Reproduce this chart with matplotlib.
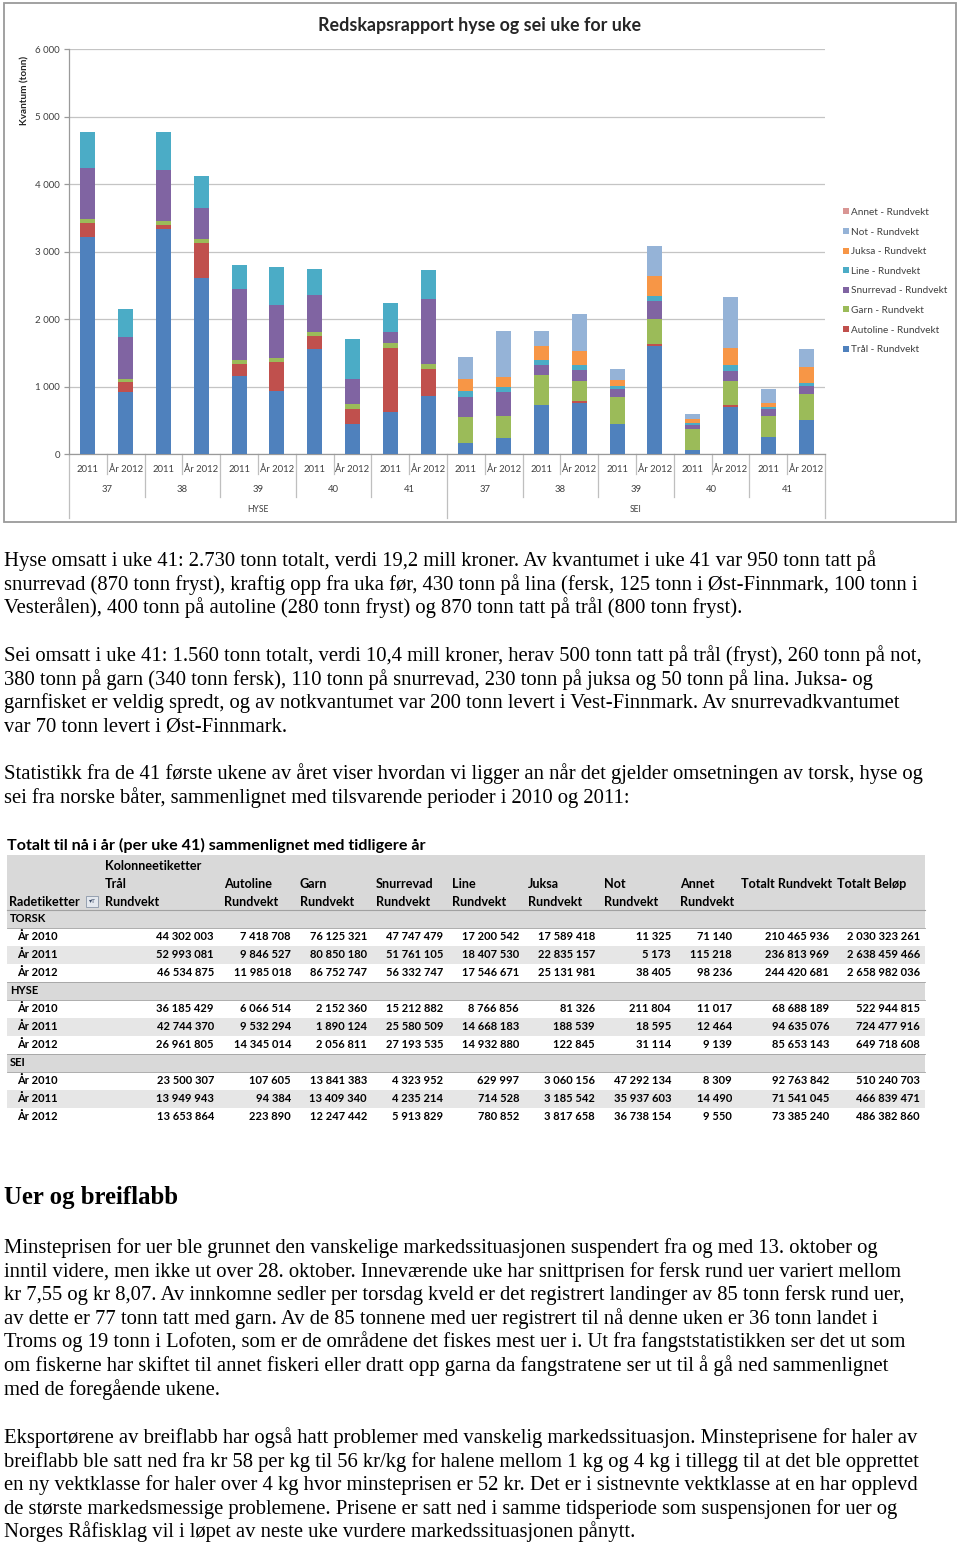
import matplotlib

matplotlib.use("Agg")
import matplotlib.pyplot as plt
import numpy as np
from matplotlib.patches import Rectangle

W, H = 960, 1543
CHART_FONT = ["Lato", "DejaVu Sans"]
BODY_FONT = ["Liberation Serif", "DejaVu Serif"]
GREY_TXT = "#404040"

# ---- chart data (tonn per uke) ----
species = ["HYSE", "SEI"]
weeks = ["37", "38", "39", "40", "41"]
years = ["2011", "År 2012"]

series_names = [
    "Trål - Rundvekt", "Autoline - Rundvekt", "Garn - Rundvekt",
    "Snurrevad - Rundvekt", "Line - Rundvekt", "Juksa - Rundvekt",
    "Not - Rundvekt", "Annet - Rundvekt",
]
series_colors = ["#4F81BD", "#C0504D", "#9BBB59", "#8064A2",
                 "#4BACC6", "#F79646", "#95B3D7", "#D99694"]

tral = [3215, 928, 3333, 2607, 1156, 943, 1560, 454, 622, 870,
        173, 248, 733, 757, 455, 1599, 69, 708, 262, 510]
autoline = [207, 139, 60, 529, 177, 420, 198, 223, 953, 400,
            0, 0, 0, 30, 0, 35, 0, 20, 0, 0]
garn = [69, 49, 64, 49, 65, 69, 49, 69, 69, 75,
        385, 321, 445, 297, 387, 371, 302, 361, 312, 381]
snurrevad = [746, 617, 755, 459, 1051, 785, 558, 365, 173, 950,
             296, 357, 139, 168, 123, 267, 65, 139, 94, 124]
line = [543, 420, 568, 475, 361, 563, 386, 593, 430, 430,
        89, 69, 79, 75, 50, 74, 24, 99, 40, 39]
juksa = [0, 0, 0, 0, 0, 0, 0, 0, 0, 0,
         173, 149, 203, 203, 79, 298, 60, 247, 49, 238]
not_ = [0, 0, 0, 0, 0, 0, 0, 0, 0, 0,
        331, 678, 223, 544, 168, 445, 79, 753, 208, 272]
annet = [0] * 20

yticks = [0, 1000, 2000, 3000, 4000, 5000, 6000]

# ---- pivot table data ----
table_title = "Totalt til nå i år (per uke 41) sammenlignet med tidligere år"
table_cols = ["Trål", "Autoline", "Garn", "Snurrevad", "Line", "Juksa",
              "Not", "Annet", "Totalt Rundvekt", "Totalt Beløp"]
table_groups = ["TORSK", "HYSE", "SEI"]
table_years = ["År 2010", "År 2011", "År 2012"]
torsk_rows = [
    [44302003, 7418708, 76125321, 47747479, 17200542, 17589418, 11325, 71140, 210465936, 2030323261],
    [52993081, 9846527, 80850180, 51761105, 18407530, 22835157, 5173, 115218, 236813969, 2638459466],
    [46534875, 11985018, 86752747, 56332747, 17546671, 25131981, 38405, 98236, 244420681, 2658982036],
]
hyse_rows = [
    [36185429, 6066514, 2152360, 15212882, 8766856, 81326, 211804, 11017, 68688189, 522944815],
    [42744370, 9532294, 1890124, 25580509, 14668183, 188539, 18595, 12464, 94635076, 724477916],
    [26961805, 14345014, 2056811, 27193535, 14932880, 122845, 31114, 9139, 85653143, 649718608],
]
sei_rows = [
    [23500307, 107605, 13841383, 4323952, 629997, 3060156, 47292134, 8309, 92763842, 510240703],
    [13949943, 94384, 13409340, 4235214, 714528, 3185542, 35937603, 14490, 71541045, 466839471],
    [13653864, 223890, 12247442, 5913829, 780852, 3817658, 36738154, 9550, 73385240, 486382860],
]

# ---- body text ----
para1 = [
    "Hyse omsatt i uke 41: 2.730 tonn totalt, verdi 19,2 mill kroner. Av kvantumet i uke 41 var 950 tonn tatt på",
    "snurrevad (870 tonn fryst), kraftig opp fra uka før, 430 tonn på lina (fersk, 125 tonn i Øst-Finnmark, 100 tonn i",
    "Vesterålen), 400 tonn på autoline (280 tonn fryst) og 870 tonn tatt på trål (800 tonn fryst).",
]
para2 = [
    "Sei omsatt i uke 41: 1.560 tonn totalt, verdi 10,4 mill kroner, herav 500 tonn tatt på trål (fryst), 260 tonn på not,",
    "380 tonn på garn (340 tonn fersk), 110 tonn på snurrevad, 230 tonn på juksa og 50 tonn på lina. Juksa- og",
    "garnfisket er veldig spredt, og av notkvantumet var 200 tonn levert i Vest-Finnmark. Av snurrevadkvantumet",
    "var 70 tonn levert i Øst-Finnmark.",
]
para3 = [
    "Statistikk fra de 41 første ukene av året viser hvordan vi ligger an når det gjelder omsetningen av torsk, hyse og",
    "sei fra norske båter, sammenlignet med tilsvarende perioder i 2010 og 2011:",
]
heading = "Uer og breiflabb"
para4 = [
    "Minsteprisen for uer ble grunnet den vanskelige markedssituasjonen suspendert fra og med 13. oktober og",
    "inntil videre, men ikke ut over 28. oktober. Inneværende uke har snittprisen for fersk rund uer variert mellom",
    "kr 7,55 og kr 8,07. Av innkomne sedler per torsdag kveld er det registrert landinger av 85 tonn fersk rund uer,",
    "av dette er 77 tonn tatt med garn. Av de 85 tonnene med uer registrert til nå denne uken er 36 tonn landet i",
    "Troms og 19 tonn i Lofoten, som er de områdene det fiskes mest uer i. Ut fra fangststatistikken ser det ut som",
    "om fiskerne har skiftet til annet fiskeri eller dratt opp garna da fangstratene ser ut til å gå ned sammenlignet",
    "med de foregående ukene.",
]
para5 = [
    "Eksportørene av breiflabb har også hatt problemer med vanskelig markedssituasjon. Minsteprisene for haler av",
    "breiflabb ble satt ned fra kr 58 per kg til 56 kr/kg for halene mellom 1 kg og 4 kg i tillegg til at det ble opprettet",
    "en ny vektklasse for haler over 4 kg hvor minsteprisen er 52 kr. Det er i sistnevnte vektklasse at en har opplevd",
    "de største markedsmessige problemene. Prisene er satt ned i samme tidsperiode som suspensjonen for uer og",
    "Norges Råfisklag vil i løpet av neste uke vurdere markedssituasjonen pånytt.",
]


def fmt(v):
    return f"{v:,}".replace(",", " ")


fig = plt.figure(figsize=(W / 100, H / 100), dpi=100)
fig.patch.set_facecolor("white")

# page layer in pixel coordinates
page = fig.add_axes([0, 0, 1, 1], zorder=0)
page.set_xlim(0, W)
page.set_ylim(H, 0)
page.axis("off")

# chart frame
page.add_patch(Rectangle((4, 3), 952, 519, facecolor="white", edgecolor="#9a9a9a", lw=1.3))
page.text(480, 25, "Redskapsrapport hyse og sei uke for uke", ha="center", va="center",
          family=CHART_FONT, fontsize=12.9, fontweight="bold", color="#262626")
page.text(25, 90, "Kvantum (tonn)", rotation=90, ha="center", va="center",
          family=CHART_FONT, fontsize=7.2, fontweight="bold", color="#262626")

# ---- stacked bars ----
ax = fig.add_axes([69 / W, 1 - 454.3 / H, (825 - 69) / W, (454.3 - 49.3) / H], zorder=1)
ax.patch.set_alpha(0)
x = np.arange(len(tral))
stack = [tral, autoline, garn, snurrevad, line, juksa, not_, annet]
bottom = np.zeros(len(x))
handles = []
for vals, name, col in zip(stack, series_names, series_colors):
    b = ax.bar(x, vals, width=0.4, bottom=bottom, color=col, label=name, zorder=3)
    bottom += np.array(vals)
    handles.append(b)

ax.set_xlim(-0.5, len(x) - 0.5)
ax.set_ylim(0, 6000)
ax.set_yticks(yticks)
ax.set_yticklabels([fmt(v) for v in yticks], family=CHART_FONT, fontsize=7, color=GREY_TXT)
ax.set_xticks([])
ax.grid(axis="y", color="#c4c4c4", lw=0.9, zorder=0)
for s in ("top", "right"):
    ax.spines[s].set_visible(False)
for s in ("left", "bottom"):
    ax.spines[s].set_color("#9a9a9a")
    ax.spines[s].set_linewidth(0.9)
ax.tick_params(axis="y", length=3.5, width=0.9, color="#9a9a9a", pad=3)

# multi-level category axis
tr = ax.get_xaxis_transform()
axh = 454.3 - 49.3
def frac(py):
    return -(py - 454.3) / axh

n_years = len(years)
n_weeks = len(weeks)
for i in range(len(x)):
    ax.text(i, frac(469), years[i % n_years], transform=tr, ha="center", va="center",
            family=CHART_FONT, fontsize=6.8, color=GREY_TXT)
for w in range(len(x) // n_years):
    ax.text(w * n_years + 0.5, frac(489), weeks[w % n_weeks], transform=tr, ha="center",
            va="center", family=CHART_FONT, fontsize=6.8, color=GREY_TXT)
per_sp = n_years * n_weeks
for s, sp in enumerate(species):
    ax.text(s * per_sp + (per_sp - 1) / 2, frac(510), sp, transform=tr, ha="center",
            va="center", family=CHART_FONT, fontsize=6.2, color=GREY_TXT)
for k in range(len(x) + 1):
    if k % per_sp == 0:
        depth = 518
    elif k % n_years == 0:
        depth = 497
    else:
        depth = 474
    ax.plot([k - 0.5, k - 0.5], [0, frac(depth)], transform=tr, clip_on=False,
            color="#bfbfbf", lw=0.9)

fig.legend(handles[::-1], series_names[::-1], loc="upper left",
           bbox_to_anchor=(838 / W, 1 - 203 / H), frameon=False,
           prop={"family": CHART_FONT, "size": 7.2}, handlelength=0.55, handleheight=0.55,
           handletextpad=0.25, labelspacing=1.06, borderpad=0, labelcolor=GREY_TXT)

# ---- body text ----
def write_lines(lines, y0, step=23.6, size=14.85):
    for j, t in enumerate(lines):
        page.text(4, y0 + j * step, t, ha="left", va="baseline", family=BODY_FONT,
                  fontsize=size, color="black")

write_lines(para1, 566)
write_lines(para2, 661)
write_lines(para3, 779)
page.text(4, 1204, heading, ha="left", va="baseline", family=BODY_FONT,
          fontsize=17.8, fontweight="bold", color="black")
write_lines(para4, 1253)
write_lines(para5, 1443)

# ---- pivot table ----
page.text(7, 845, table_title, ha="left", va="center", family=CHART_FONT,
          fontsize=11.6, fontweight="bold", color="black")
T_LEFT, T_RIGHT = 7, 925
BAND = "#d9d9d9"
RULE = "#a0a0a0"
label_x = [105, 224, 300, 376, 452, 528, 604, 680, 741, 837]
right_x = [214, 291, 367, 443, 519, 595, 671, 732, 829, 920]
lkw = dict(family=CHART_FONT, fontsize=9.1, fontweight="bold", color="black", va="center")
nkw = dict(family=CHART_FONT, fontsize=8.0, fontweight="bold", color="black", va="center")

page.add_patch(Rectangle((T_LEFT, 855), T_RIGHT - T_LEFT, 55, facecolor=BAND, edgecolor="none"))
page.plot([T_LEFT, T_RIGHT], [910, 910], color=RULE, lw=0.8)
page.text(label_x[0], 866, "Kolonneetiketter", ha="left", **lkw)
for lx, name in zip(label_x, table_cols):
    page.text(lx, 884, name, ha="left", **lkw)
for lx in label_x[:8]:
    page.text(lx, 902, "Rundvekt", ha="left", **lkw)
page.text(9, 902, "Radetiketter", ha="left", **lkw)
page.add_patch(Rectangle((86, 896), 12, 11, facecolor="#e4e8ee", edgecolor="#8a96a8", lw=0.6))
page.text(92, 901.5, "▾T", ha="center", va="center", fontsize=4.5, color="#3a4a66",
          family=["DejaVu Sans"])

row_h = 18
y = 919
for group, rows in zip(table_groups, [torsk_rows, hyse_rows, sei_rows]):
    page.add_patch(Rectangle((T_LEFT, y - 9), T_RIGHT - T_LEFT, row_h, facecolor=BAND,
                             edgecolor="none"))
    page.plot([T_LEFT, T_RIGHT], [y - 9, y - 9], color=RULE, lw=0.6)
    page.plot([T_LEFT, T_RIGHT], [y + 9, y + 9], color=RULE, lw=0.6)
    page.text(10, y, group, ha="left", **nkw)
    y += row_h
    for r, (yr, vals) in enumerate(zip(table_years, rows)):
        if r == 1:
            page.add_patch(Rectangle((T_LEFT, y - 9), T_RIGHT - T_LEFT, row_h,
                                     facecolor="#e6e6e6", edgecolor="none"))
        page.text(17, y, yr, ha="left", **nkw)
        for rx, v in zip(right_x, vals):
            page.text(rx, y, fmt(v), ha="right", **nkw)
        y += row_h

fig.savefig("out.png", dpi=100, facecolor="white")
